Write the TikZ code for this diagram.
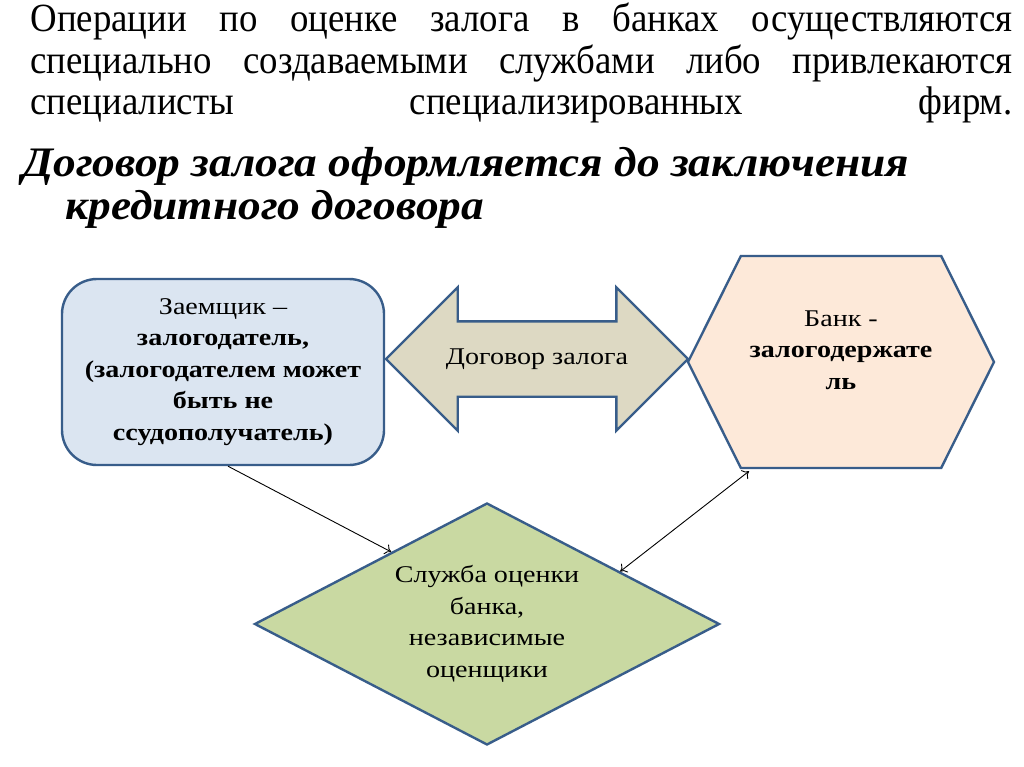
\documentclass[tikz,border=0pt]{standalone}
\usepackage{fontspec}
\setmainfont{Liberation Serif}
\newfontfamily\slidefont[FakeStretch=0.92]{Liberation Serif}
\newfontfamily\headfont[FakeStretch=1.08]{Liberation Serif}
\newfontfamily\shapefont[FakeStretch=1.17]{Liberation Serif}
\usepackage{tikz}
\usetikzlibrary{calc, shapes, arrows.meta}

\definecolor{shapeline}{HTML}{385D8A}
\definecolor{borrowerfill}{HTML}{DBE5F1}
\definecolor{dealfill}{HTML}{DDD9C3}
\definecolor{bankfill}{HTML}{FDE9D9}
\definecolor{servicefill}{HTML}{C9D9A2}

\begin{document}
\begin{tikzpicture}[x=1pt, y=-1pt, ->, >={To[length=6pt,width=11pt]}, line width=0.9pt, auto,
  blob/.style={draw=shapeline, line width=2.4pt, align=center, inner sep=0pt,
    font=\shapefont\fontsize{24}{31.5}\selectfont},
  slideline/.style={anchor=base west, inner sep=0pt, font=\slidefont\fontsize{40}{46}\selectfont},
  headline/.style={anchor=base west, inner sep=0pt, font=\headfont\fontsize{42}{48}\selectfont\bfseries\itshape},
]
  \useasboundingbox[fill=white] (0,0) rectangle (1024,767);

  % text above the scheme
  \node[slideline] (line1) at (30,32) {\makebox[982pt][s]{Операции по оценке залога в банках осуществляются}};
  \node[slideline] (line2) at (30,74) {\makebox[982pt][s]{специально создаваемыми службами либо привлекаются}};
  \node[slideline] (line3) at (30,115) {\makebox[982pt][s]{специалисты специализированных фирм.}};
  \node[headline] (head1) at (22,177) {Договор залога оформляется до заключения};
  \node[headline] (head2) at (65,220) {кредитного договора};

  % the scheme
  \node[blob, rounded corners=35pt, fill=borrowerfill, minimum width=322pt, minimum height=186pt] (borrower) at (223,372)
    {Заемщик –\\ \textbf{залогодатель,}\\ \textbf{(залогодателем может}\\ \textbf{быть не}\\ \textbf{ссудополучатель)}};
  \node[blob, double arrow, double arrow head extend=34pt, fill=dealfill, inner ysep=26.5pt,
    text height=15pt, text depth=5pt, minimum height=302pt] (deal) at (537,359) {Договор залога};
  \node[blob, signal, signal to=west and east, signal pointer angle=127, fill=bankfill,
    minimum width=306pt, minimum height=212pt] (bank) at (841,362) {};
  \node[align=center, font=\shapefont\fontsize{24}{31.5}\selectfont] (banktext) at ([yshift=12pt]bank.center)
    {Банк -\\ \textbf{залогодержате}\\ \textbf{ль}};
  \node[blob, diamond, aspect=1.92, fill=servicefill, minimum width=465pt, minimum height=242pt] (service) at (487,624)
    {Служба оценки\\ банка,\\ независимые\\ оценщики};

  \path
    ([xshift=5pt]borrower.south) edge ($(service.west)!0.59!(service.north)$)
    ($(service.north)!0.57!(service.east)$) edge[<->] ([xshift=-92pt,yshift=-2pt]bank.south);
\end{tikzpicture}
\end{document}
